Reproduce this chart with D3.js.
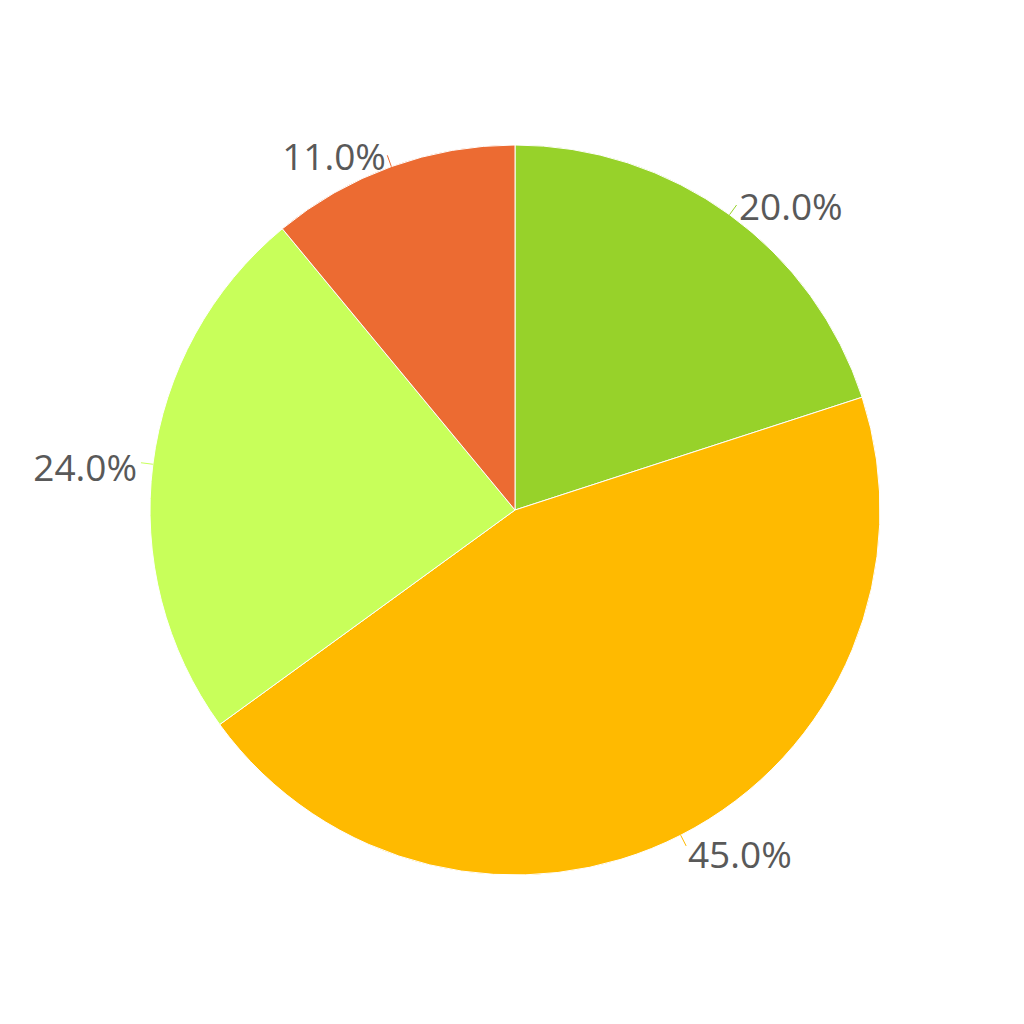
<!DOCTYPE html>
<html><head><meta charset="utf-8">
<script src="https://cdn.jsdelivr.net/npm/d3@7"></script>
<style>body{margin:0;background:#fff}</style>
</head><body>
<svg id="c" width="1024" height="1024"></svg>
<script>
const categories = ["A", "B", "C", "D"];
const values = [20, 45, 24, 11];
const colors = ["#97D22A", "#FFBA00", "#C8FF5A", "#EC6B32"];

const svg = d3.select("#c");
const cx = 515, cy = 510, r = 365;
const g = svg.append("g").attr("transform", `translate(${cx},${cy})`);
const total = d3.sum(values);
const pie = d3.pie().sort(null).value(d => d.v);
const arcs = pie(categories.map((c, i) => ({c, v: values[i], col: colors[i]})));
const arc = d3.arc().innerRadius(0).outerRadius(r);

g.selectAll("path.s").data(arcs).join("path")
  .attr("d", arc).attr("fill", d => d.data.col)
  .attr("stroke", "#fff").attr("stroke-width", 1);

const pt = (a, rr) => [Math.sin(a) * rr, -Math.cos(a) * rr];
arcs.forEach(d => {
  const m = (d.startAngle + d.endAngle) / 2;
  const p0 = pt(m, r), p1 = pt(m, r + 12), pl = pt(m, r + 16);
  g.append("line").attr("x1", p0[0]).attr("y1", p0[1]).attr("x2", p1[0]).attr("y2", p1[1])
    .attr("stroke", d.data.col).attr("stroke-width", 1);
  g.append("text").attr("x", pl[0]).attr("y", pl[1] + 4)
    .attr("text-anchor", Math.sin(m) >= 0 ? "start" : "end")
    .attr("dominant-baseline", "central")
    .attr("font-family", "'Open Sans', sans-serif").attr("font-size", 37)
    .attr("fill", "#595959")
    .text((d.data.v / total * 100).toFixed(1) + "%");
});
</script>
</body></html>
